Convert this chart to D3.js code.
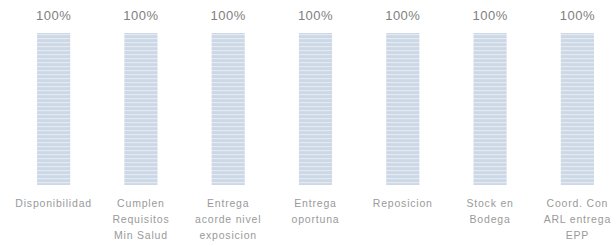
<!DOCTYPE html>
<html>
<head>
<meta charset="utf-8">
<script src="https://cdn.jsdelivr.net/npm/d3@7.9.0/dist/d3.min.js"></script>
<style>
  body { margin: 0; background: #fff; }
  text { font-family: "Liberation Sans", Arial, sans-serif; }
</style>
</head>
<body>
<svg></svg>
<script>
const width = 616;
const height = 246;

// chart data
const categories = ["Disponibilidad", "Cumplen Requisitos Min Salud", "Entrega acorde nivel exposicion",
    "Entrega oportuna", "Reposicion", "Stock en Bodega", "Coord. Con ARL entrega EPP"];
const labelLines = [
    ["Disponibilidad"],
    ["Cumplen", "Requisitos", "Min Salud"],
    ["Entrega", "acorde nivel", "exposicion"],
    ["Entrega", "oportuna"],
    ["Reposicion"],
    ["Stock en", "Bodega"],
    ["Coord. Con", "ARL entrega", "EPP"]
];
const values = [100, 100, 100, 100, 100, 100, 100];

const svg = d3.select("svg")
    .attr("width", width)
    .attr("height", height);

// striped fill like the original
const pat = svg.append("defs").append("pattern")
    .attr("id", "stripes")
    .attr("patternUnits", "userSpaceOnUse")
    .attr("width", 8)
    .attr("height", 4);
pat.append("rect").attr("width", 8).attr("height", 4).attr("fill", "#cdd8e6");
pat.append("rect").attr("y", 2).attr("width", 8).attr("height", 1.2).attr("fill", "#e4eaf2");

const x = d3.scaleBand()
    .domain(categories)
    .range([10, 621])
    .paddingInner(0.62)
    .paddingOuter(0.31);

const y = d3.scaleLinear()
    .domain([0, 100])
    .range([185, 33]);

svg.selectAll(".bar")
    .data(values)
    .enter().append("rect")
    .attr("class", "bar")
    .attr("x", (d, i) => x(categories[i]))
    .attr("y", d => y(d))
    .attr("width", x.bandwidth())
    .attr("height", d => y(0) - y(d))
    .attr("fill", "url(#stripes)");

// value labels
svg.selectAll(".val")
    .data(values)
    .enter().append("text")
    .attr("class", "val")
    .attr("x", (d, i) => x(categories[i]) + x.bandwidth() / 2)
    .attr("y", d => y(d) - 13)
    .attr("text-anchor", "middle")
    .attr("font-size", 13)
    .attr("letter-spacing", 0.5)
    .attr("fill", "#808080")
    .text(d => d + "%");

// category labels
const lab = svg.selectAll(".cat")
    .data(categories)
    .enter().append("text")
    .attr("class", "cat")
    .attr("text-anchor", "middle")
    .attr("font-size", 10.5)
    .attr("letter-spacing", 0.8)
    .attr("fill", "#9a9a9a");

lab.selectAll("tspan")
    .data((d, i) => labelLines[i].map(t => ({ t: t, c: d })))
    .enter().append("tspan")
    .attr("x", d => x(d.c) + x.bandwidth() / 2)
    .attr("y", (d, j) => 207 + j * 16)
    .text(d => d.t);
</script>
</body>
</html>
